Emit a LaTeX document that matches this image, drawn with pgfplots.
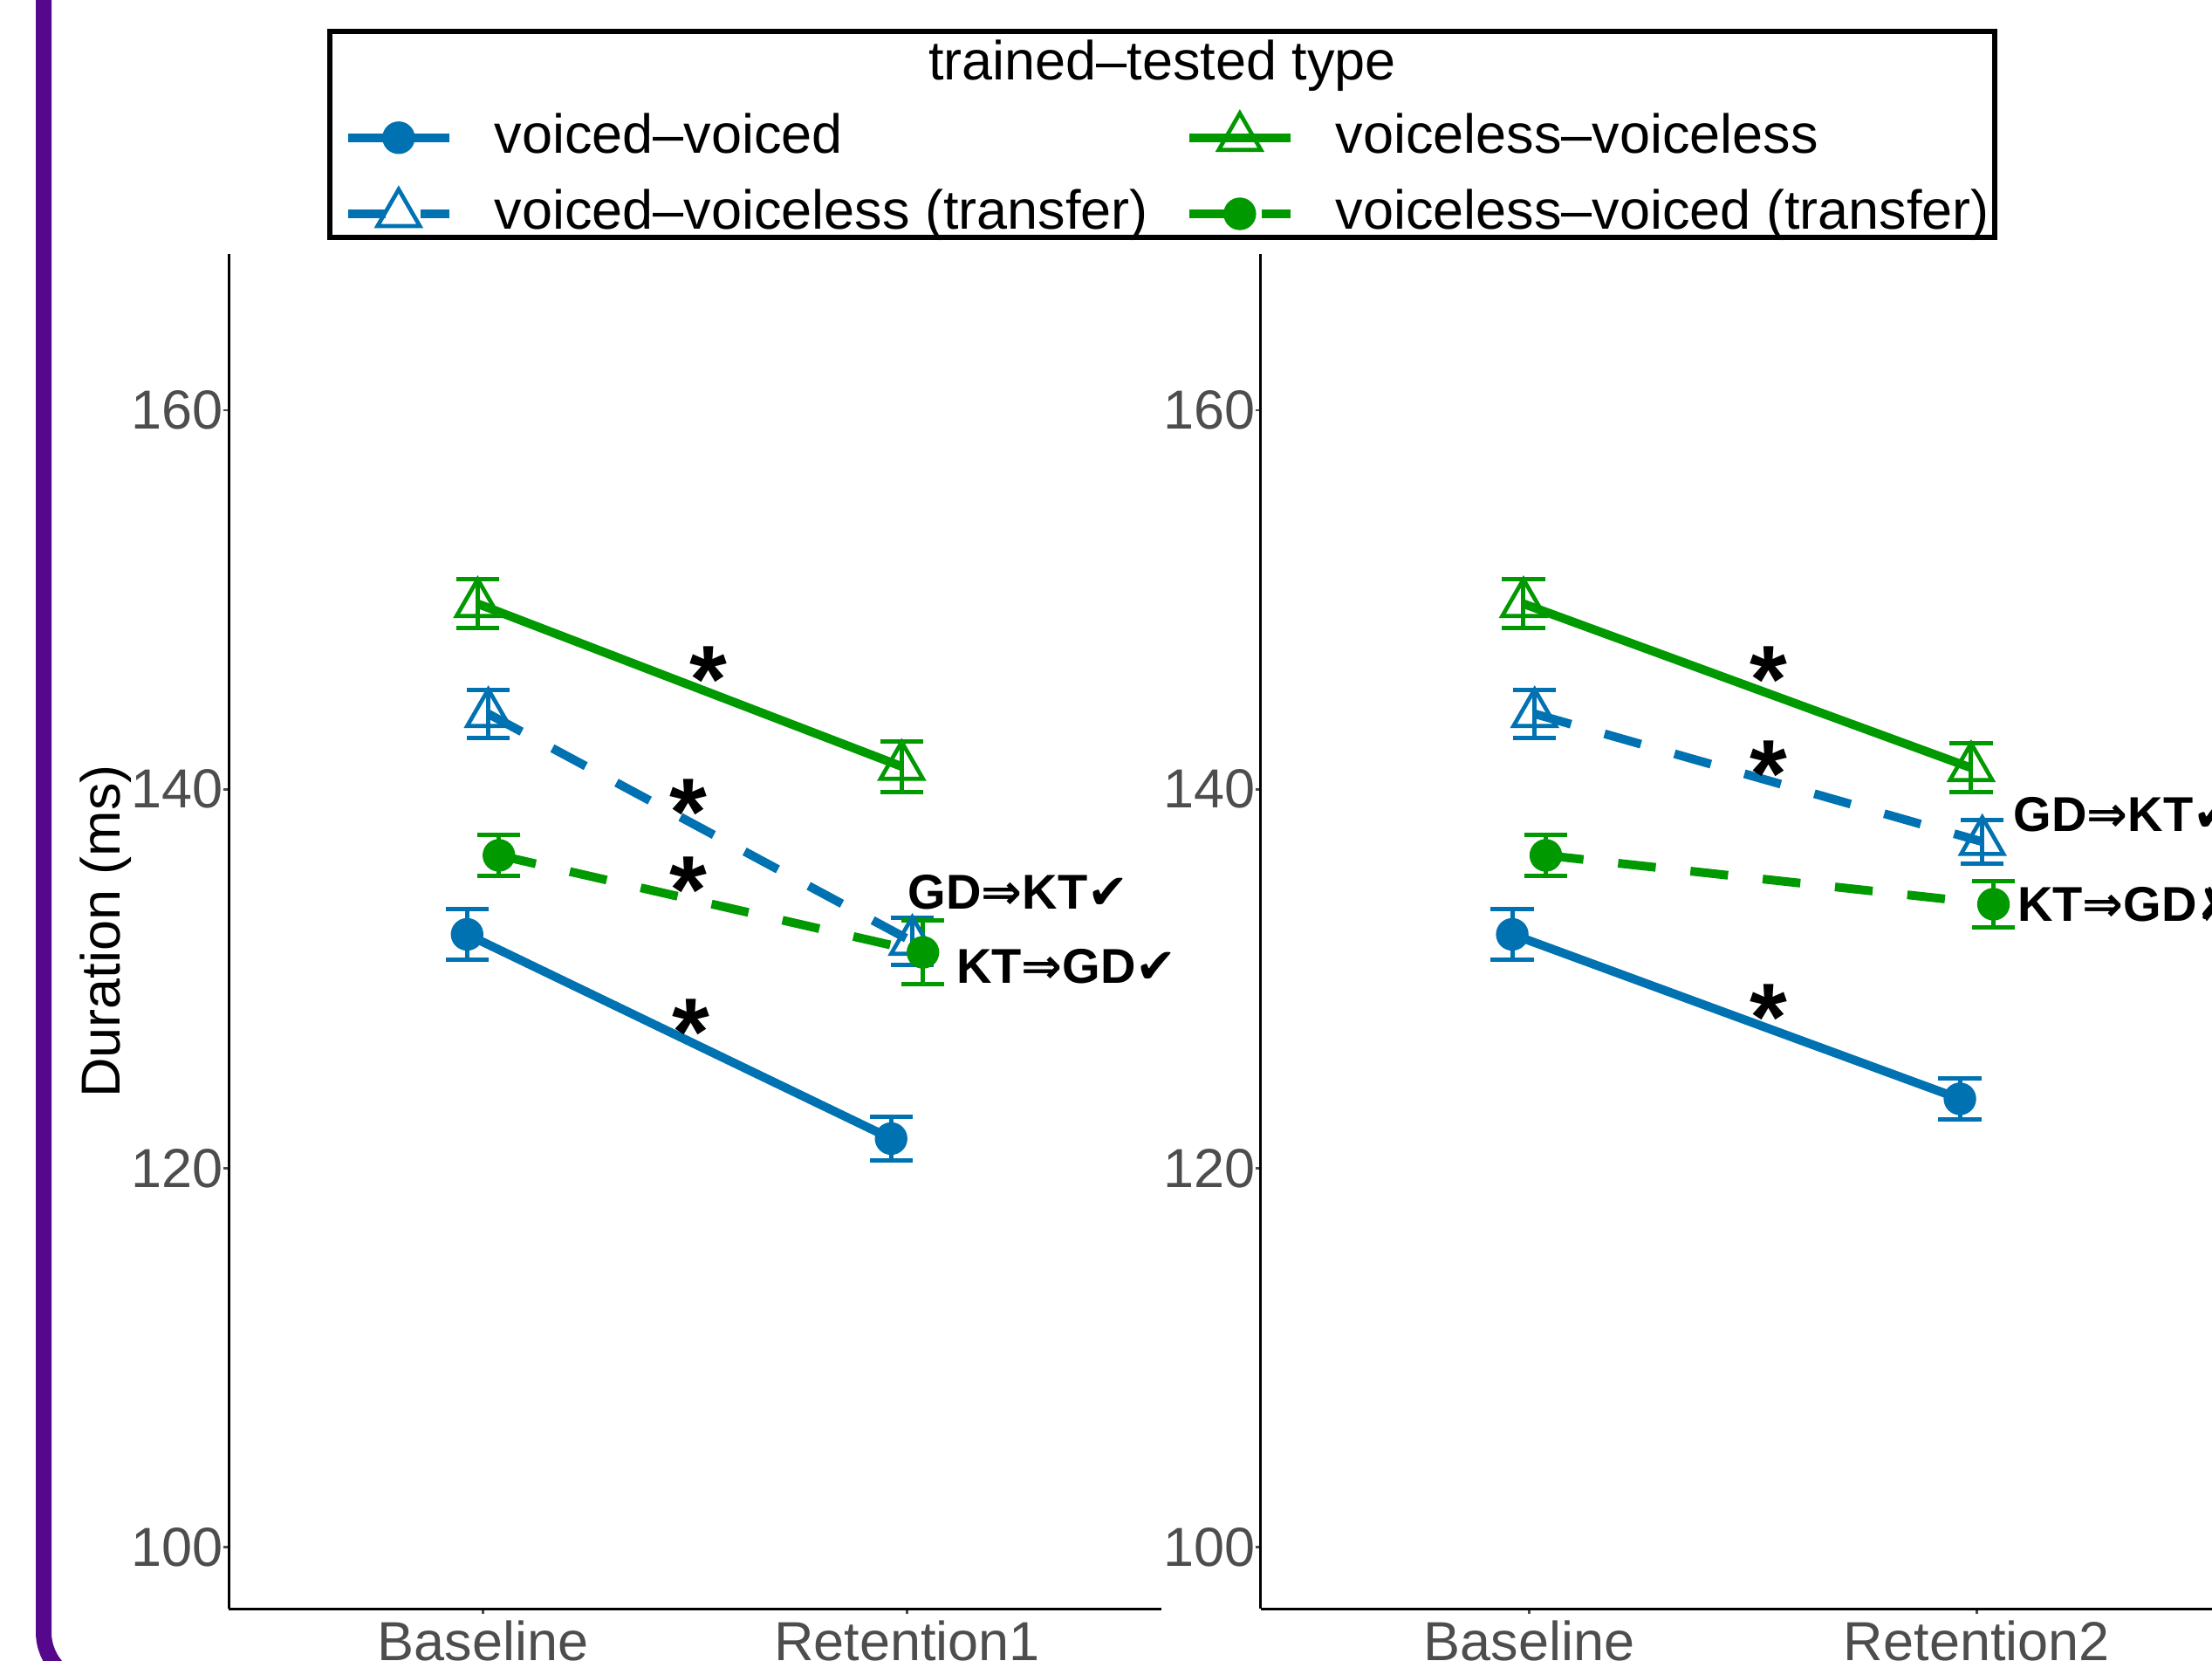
\documentclass[border=0pt]{standalone}
\usepackage{pgfplots}
\pgfplotsset{compat=1.18}
\usepackage{fontspec}
\setmainfont{Liberation Sans}
\newfontfamily\symfont{DejaVu Sans}
\definecolor{vblue}{HTML}{0072B2}
\definecolor{vgreen}{HTML}{009900}
\definecolor{purp}{HTML}{55088C}
\definecolor{tickgrey}{HTML}{4D4D4D}
\def\s{0.15pt}
\newcommand\astfont{\fontsize{16.5}{16.5}\selectfont\bfseries}
\newcommand\annfont{\fontsize{8.4}{9}\selectfont\bfseries}
\newcommand\txtfont{\fontsize{9.45}{11}\selectfont}
\pgfplotsset{
  panel/.style={
    scale only axis, height={1552*\s}, ymin=96.75, ymax=168.25, xmin=0.4, xmax=2.6,
    axis x line=bottom, axis y line=left, axis line style={-, line width=0.45pt, black},
    xtick={1,2}, ytick={100,120,140,160},
    tick align=outside, major tick length=0.9pt, tick style={line width=0.4pt, tickgrey},
    ticklabel style={font=\txtfont, text=tickgrey},
    /pgf/number format/assume math mode=true,
    xticklabel style={inner sep=0pt, yshift=-1pt},
    yticklabel style={inner sep=0pt, xshift=0.2pt},
    clip=false,
  },
  solidln/.style={line width=1.5pt, solid},
  dashln/.style={line width=1.5pt, dash pattern=on 6.5pt off 6pt},
  circ/.style={mark=*, mark size=2.5pt, mark options={solid, line width=0.6pt}},
  tri/.style={mark=triangle, mark size=4.2pt, mark options={solid, line width=0.7pt}},
  eb/.style={error bars/.cd, y dir=both, y explicit,
    error bar style={solid, line width=0.75pt},
    error mark options={rotate=90, mark size=3.7pt, line width=0.75pt, solid}},
}
\begin{document}
\begin{tikzpicture}
\useasboundingbox (0,0) rectangle ({2535*\s},{-1902*\s});
\clip (0,0) rectangle ({2535*\s},{-1902*\s});
\fill[white] (0,0) rectangle ({2535*\s},{-1902*\s});
% purple frame edge
\draw[purp, line width={18*\s}, rounded corners={60*\s}] ({50*\s},{20*\s}) -- ({50*\s},{-1930*\s}) -- ({400*\s},{-1930*\s});

\begin{axis}[panel, at={({262*\s},{-1843*\s})}, anchor=south west, width={1069*\s},
  xticklabels={Baseline,Retention1},
  ylabel={Duration (ms)},
  ylabel style={at={(axis description cs:-0.132,0.5)}, anchor=center, font=\txtfont, inner sep=0pt},
  legend columns=2,
  legend cell align=left,
  legend style={at={(1.0055,1.0578)}, anchor=center, draw=none, fill=none, inner sep=0pt,
    font=\txtfont, nodes={inner sep=0pt}, row sep=4.7pt,
    /tikz/every odd column/.append style={column sep=7pt},
    /tikz/every even column/.append style={column sep=6.3pt}},
  legend image code/.code={\draw[mark repeat=2,mark phase=2] plot coordinates {(0pt,0pt) (8.7pt,0pt) (17.4pt,0pt)};},
]
\addplot[vblue, solidln, circ, eb] coordinates {(0.9625,132.34) +- (0,1.33) (1.9625,121.56) +- (0,1.17)};
\addlegendentry{voiced–voiced}
\addplot[vgreen, solidln, tri, eb] coordinates {(0.9875,149.79) +- (0,1.28) (1.9875,141.20) +- (0,1.33)};
\addlegendentry{voiceless–voiceless}
\addplot[vblue, dashln, tri, eb] coordinates {(1.0125,143.98) +- (0,1.27) (2.0125,131.96) +- (0,1.25)};
\addlegendentry{voiced–voiceless (transfer)}
\addplot[vgreen, dashln, circ, eb] coordinates {(1.0375,136.51) +- (0,1.09) (2.0375,131.39) +- (0,1.67)};
\addlegendentry{voiceless–voiced (transfer)}
\node[anchor=north, inner sep=0pt, font=\astfont] at (axis cs:1.532,147.6) {*};
\node[anchor=north, inner sep=0pt, font=\astfont] at (axis cs:1.485,140.6) {*};
\node[anchor=north, inner sep=0pt, font=\astfont] at (axis cs:1.485,136.5) {*};
\node[anchor=north, inner sep=0pt, font=\astfont] at (axis cs:1.490,129.0) {*};
\node[anchor=base west, inner sep=0pt, font=\annfont] at (axis cs:2.0,133.67) {GD{\symfont ⇒}KT{\symfont ✔}};
\node[anchor=base west, inner sep=0pt, font=\annfont] at (axis cs:2.114,129.74) {KT{\symfont ⇒}GD{\symfont ✔}};
\end{axis}

\begin{axis}[panel, at={({1444.5*\s},{-1843*\s})}, anchor=south west, width={1128.6*\s},
  xticklabels={Baseline,Retention2},
]
\addplot[vblue, solidln, circ, eb] coordinates {(0.9625,132.34) +- (0,1.33) (1.9625,123.66) +- (0,1.09)};
\addplot[vgreen, solidln, tri, eb] coordinates {(0.9875,149.79) +- (0,1.28) (1.9875,141.13) +- (0,1.29)};
\addplot[vblue, dashln, tri, eb] coordinates {(1.0125,143.98) +- (0,1.27) (2.0125,137.23) +- (0,1.15)};
\addplot[vgreen, dashln, circ, eb] coordinates {(1.0375,136.51) +- (0,1.09) (2.0375,133.93) +- (0,1.20)};
\node[anchor=north, inner sep=0pt, font=\astfont] at (axis cs:1.536,147.6) {*};
\node[anchor=north, inner sep=0pt, font=\astfont] at (axis cs:1.536,142.6) {*};
\node[anchor=north, inner sep=0pt, font=\astfont] at (axis cs:1.536,129.75) {*};
\node[anchor=base west, inner sep=0pt, font=\annfont] at (axis cs:2.080,137.77) {GD{\symfont ⇒}KT{\symfont ✔}};
\node[anchor=base west, inner sep=0pt, font=\annfont] at (axis cs:2.089,133.01) {KT{\symfont ⇒}GD{\symfont ✘}};
\end{axis}

% legend frame and title
\draw[line width=0.8pt] ({378*\s},{-36*\s}) rectangle ({2286*\s},{-272*\s});
\node[anchor=base, inner sep=0pt, font=\txtfont] at ({1332*\s},{-92*\s}) {trained–tested type};
\end{tikzpicture}
\end{document}
